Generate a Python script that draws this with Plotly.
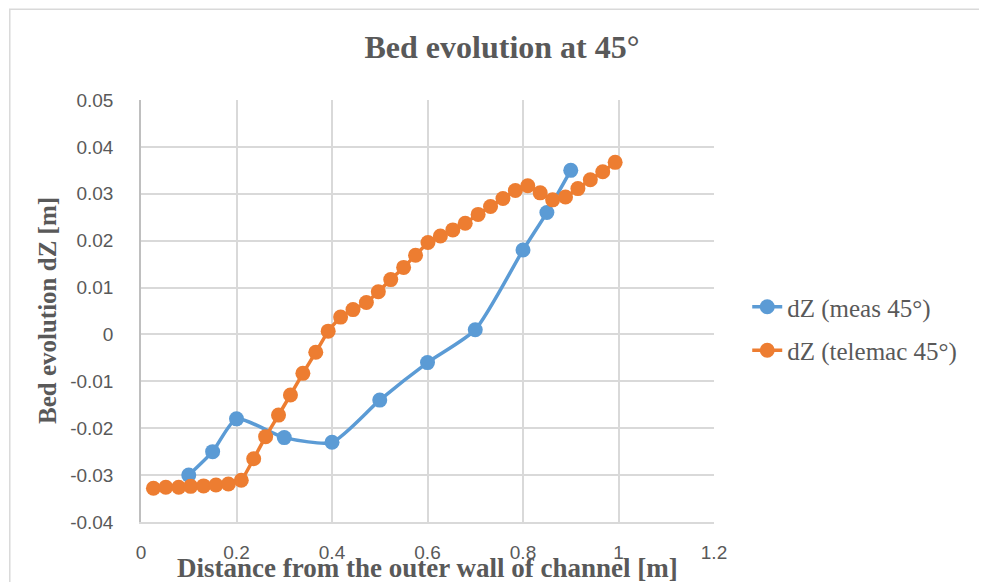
import plotly.graph_objects as go

# measured profile
meas_x = [0.1, 0.15, 0.2, 0.3, 0.4, 0.5, 0.6, 0.7, 0.8, 0.85, 0.9]
meas_dz = [-0.030, -0.025, -0.018, -0.022, -0.023, -0.014, -0.006, 0.001, 0.018, 0.026, 0.035]

# telemac profile
tel_x = [0.026, 0.052, 0.079, 0.104, 0.131, 0.157, 0.183, 0.210, 0.236, 0.261,
         0.288, 0.313, 0.339, 0.366, 0.392, 0.418, 0.444, 0.472, 0.497, 0.523,
         0.550, 0.575, 0.601, 0.627, 0.653, 0.679, 0.706, 0.732, 0.758, 0.784,
         0.810, 0.836, 0.862, 0.889, 0.915, 0.941, 0.967, 0.993]
tel_dz = [-0.0328, -0.0326, -0.0326, -0.0324, -0.0323, -0.0321, -0.0319, -0.0311, -0.0265, -0.0218,
          -0.0172, -0.0129, -0.0083, -0.0038, 0.0007, 0.0037, 0.0053, 0.0068, 0.0091, 0.0117,
          0.0143, 0.0169, 0.0196, 0.0210, 0.0223, 0.0237, 0.0256, 0.0273, 0.0290, 0.0307,
          0.0317, 0.0302, 0.0287, 0.0293, 0.0311, 0.0330, 0.0347, 0.0367]

y_ticks = [-0.04, -0.03, -0.02, -0.01, 0, 0.01, 0.02, 0.03, 0.04, 0.05]
y_tick_labels = ["-0.04", "-0.03", "-0.02", "-0.01", "0", "0.01", "0.02", "0.03", "0.04", "0.05"]
x_ticks = [0, 0.2, 0.4, 0.6, 0.8, 1, 1.2]
x_tick_labels = ["0", "0.2", "0.4", "0.6", "0.8", "1", "1.2"]

BLUE = "#5B9BD5"
ORANGE = "#ED7D31"
GREY = "#595959"
SERIF = "Liberation Serif, Times New Roman, serif"
SANS = "Liberation Sans Narrow, Liberation Sans, Arial, sans-serif"

fig = go.Figure()
fig.add_trace(go.Scatter(
    x=meas_x, y=meas_dz, name="dZ (meas 45°)", mode="lines+markers",
    line=dict(color=BLUE, width=3.5, shape="spline", smoothing=0.6),
    marker=dict(color=BLUE, size=15), legendgroup="a"
))
fig.add_trace(go.Scatter(
    x=tel_x, y=tel_dz, name="dZ (telemac 45°)", mode="lines+markers",
    line=dict(color=ORANGE, width=3.5, shape="spline", smoothing=0.4),
    marker=dict(color=ORANGE, size=15), legendgroup="b"
))

# page has an 8px body margin, so the figure is sized to fit inside it
fig.update_layout(
    width=979, height=574,
    margin=dict(l=133, r=273, t=92, b=60, autoexpand=False),
    paper_bgcolor="white", plot_bgcolor="white",
    title=dict(text="<b>Bed evolution at 45°</b>", x=0.5046, xanchor="center",
               y=0.932, yanchor="middle",
               font=dict(family=SERIF, size=32, color=GREY)),
    legend=dict(x=1.058, y=0.4585, xanchor="left", yanchor="middle",
                font=dict(family=SERIF, size=25, color=GREY),
                tracegroupgap=8, bgcolor="rgba(0,0,0,0)"),
    shapes=[dict(type="rect", xref="paper", yref="paper",
                 x0=-0.229, x1=1.6, y0=-0.4, y1=1.215,
                 line=dict(color="#D9D9D9", width=1.5), layer="below")],
    annotations=[
        dict(text="<b>Distance from the outer wall of channel [m]</b>",
             xref="paper", yref="paper", x=0.5, y=-0.109,
             xanchor="center", yanchor="middle", showarrow=False,
             font=dict(family=SERIF, size=27, color=GREY)),
        dict(text="<b>Bed evolution dZ [m]</b>", textangle=-90,
             xref="paper", yref="paper", x=-0.164, y=0.5,
             xanchor="center", yanchor="middle", showarrow=False,
             font=dict(family=SERIF, size=25, color=GREY)),
    ],
)
fig.update_xaxes(
    range=[0, 1.2], tickvals=x_ticks, ticktext=x_tick_labels, automargin=False,
    showgrid=True, gridcolor="#D9D9D9", gridwidth=1.5,
    showline=True, linecolor="#D9D9D9", linewidth=1.5, zeroline=False,
    tickfont=dict(family=SANS, size=19, color=GREY), ticklabelstandoff=12,
)
fig.update_yaxes(
    range=[-0.04, 0.05], tickvals=y_ticks, ticktext=y_tick_labels, automargin=False,
    showgrid=True, gridcolor="#D9D9D9", gridwidth=1.5,
    showline=True, linecolor="#BFBFBF", linewidth=1.5, zeroline=False,
    tickfont=dict(family=SANS, size=19, color=GREY), ticklabelstandoff=22,
)

fig.write_html("out.html")
